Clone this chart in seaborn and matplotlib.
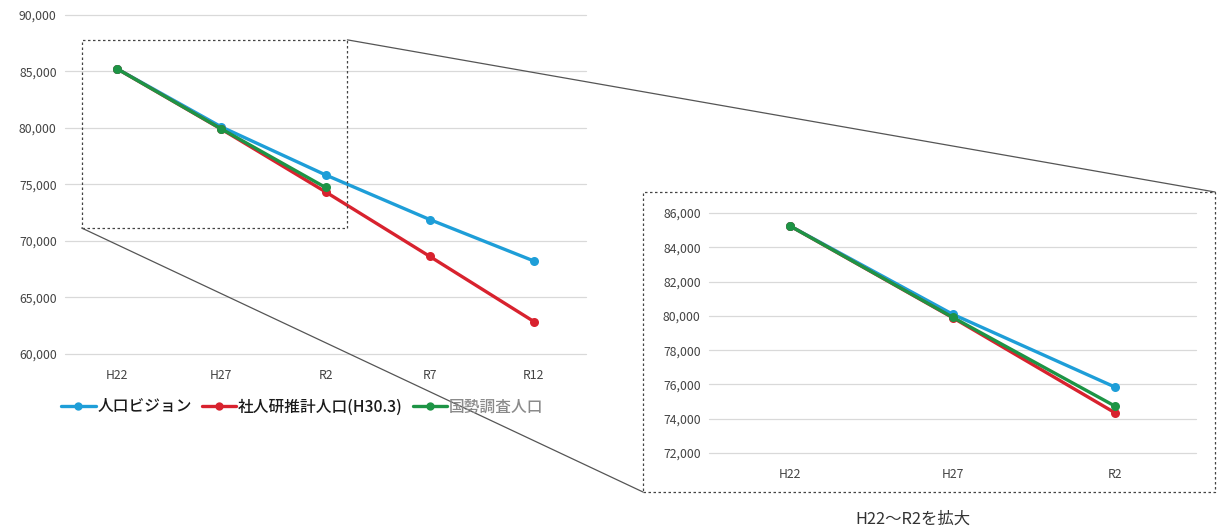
import matplotlib
matplotlib.use("Agg")
import matplotlib.pyplot as plt
from matplotlib.patches import Rectangle
from matplotlib.lines import Line2D
from matplotlib.ticker import FuncFormatter, MultipleLocator
import numpy as np
import pandas as pd
import seaborn as sns

# 年次区分
years = ["H22", "H27", "R2", "R7", "R12"]

# 人口推移（人）
vision = [85240, 80100, 75850, 71900, 68230]        # 人口ビジョン
ipss = [85240, 79900, 74350, 68640, 62870]          # 社人研推計人口(H30.3)
census = [85240, 79920, 74740]                      # 国勢調査人口

series_names = ["人口ビジョン", "社人研推計人口(H30.3)", "国勢調査人口"]
series_values = [vision, ipss, census]
colors = ["#1e9ed8", "#d8222e", "#1d9445"]

sns.set_theme(style="white")
plt.rcParams["font.family"] = ["Noto Sans CJK JP", "DejaVu Sans"]

rows = []
for name, vals in zip(series_names, series_values):
    for i, v in enumerate(vals):
        rows.append({"pos": i, "year": years[i], "pop": v, "series": name})
df = pd.DataFrame(rows)
palette = dict(zip(series_names, colors))

W, H = 1217, 531
fig = plt.figure(figsize=(W / 100, H / 100), dpi=100)

def fx(px):
    return px / W

def fy(py):
    return 1 - py / H

# 全期間
ax1 = fig.add_axes([fx(65), fy(354), fx(586 - 65), (354 - 15) / H])
# H22〜R2 拡大
ax2 = fig.add_axes([fx(709), fy(453), fx(1196 - 709), (453 - 213) / H])

fmt = FuncFormatter(lambda v, _: f"{v:,.0f}")

def draw(ax, data, n_cat, ylo, yhi, step):
    sns.lineplot(data=data, x="pos", y="pop", hue="series", hue_order=series_names,
                 palette=palette, marker="o", markersize=6.5, markeredgewidth=0,
                 linewidth=2.4, sort=False, legend=False, ax=ax)
    ax.set_xlim(-0.5, n_cat - 0.5)
    ax.set_ylim(ylo, yhi)
    ax.yaxis.set_major_locator(MultipleLocator(step))
    ax.yaxis.set_major_formatter(fmt)
    ax.set_xticks(range(n_cat), years[:n_cat])
    ax.grid(axis="y", color="#d9d9d9", linewidth=0.9)
    for gl in ax.get_ygridlines():
        gl.set_clip_on(False)
    ax.set_axisbelow(True)
    for s in ax.spines.values():
        s.set_visible(False)
    ax.tick_params(axis="both", length=0, labelsize=8.8, labelcolor="#444444")
    ax.tick_params(axis="x", pad=11)
    ax.tick_params(axis="y", pad=6)
    ax.set_xlabel("")
    ax.set_ylabel("")

draw(ax1, df, len(years), 60000, 90000, 5000)
draw(ax2, df[df["pos"] < 3], 3, 72000, 86000, 2000)

# 凡例
handles = [Line2D([0], [0], color=c, marker="o", markersize=6, markeredgewidth=0, linewidth=2.4)
           for c in colors]
leg = fig.legend(handles, series_names, loc="center left",
                 bbox_to_anchor=(fx(47), fy(407)), ncol=3, frameon=False,
                 prop={"size": 11.3, "weight": "medium"},
                 handlelength=2.2, handletextpad=0.1, columnspacing=0.65)
for t, c in zip(leg.get_texts(), ["#1a1a1a", "#1a1a1a", "#8a8a8a"]):
    t.set_color(c)

# 拡大範囲の枠（左図）
x0, x1 = -0.34, 2.21
y0, y1 = 71150, 87800
ax1.add_patch(Rectangle((x0, y0), x1 - x0, y1 - y0, fill=False, edgecolor="#444444",
                        linestyle=(0, (2, 2)), linewidth=0.9, clip_on=False, zorder=5))

# 拡大図の枠
bx0, by0, bx1, by1 = fx(643), fy(492), fx(1215), fy(192)
fig.add_artist(Rectangle((bx0, by0), bx1 - bx0, by1 - by0, transform=fig.transFigure,
                         fill=False, edgecolor="#444444", linestyle=(0, (2, 2)), linewidth=0.9))

# 引き出し線
fig.canvas.draw()
to_fig = fig.transFigure.inverted()
tr = to_fig.transform(ax1.transData.transform((x1, y1)))
bl = to_fig.transform(ax1.transData.transform((x0, y0)))
fig.add_artist(Line2D([tr[0], bx1], [tr[1], by1], transform=fig.transFigure,
                      color="#555555", linewidth=0.9))
fig.add_artist(Line2D([bl[0], bx0], [bl[1], by0], transform=fig.transFigure,
                      color="#555555", linewidth=0.9))

fig.text(fx(913), fy(519), "H22～R2を拡大", ha="center", va="center",
         fontsize=11.8, color="#333333")

fig.savefig("out.png", dpi=100, facecolor="white")
